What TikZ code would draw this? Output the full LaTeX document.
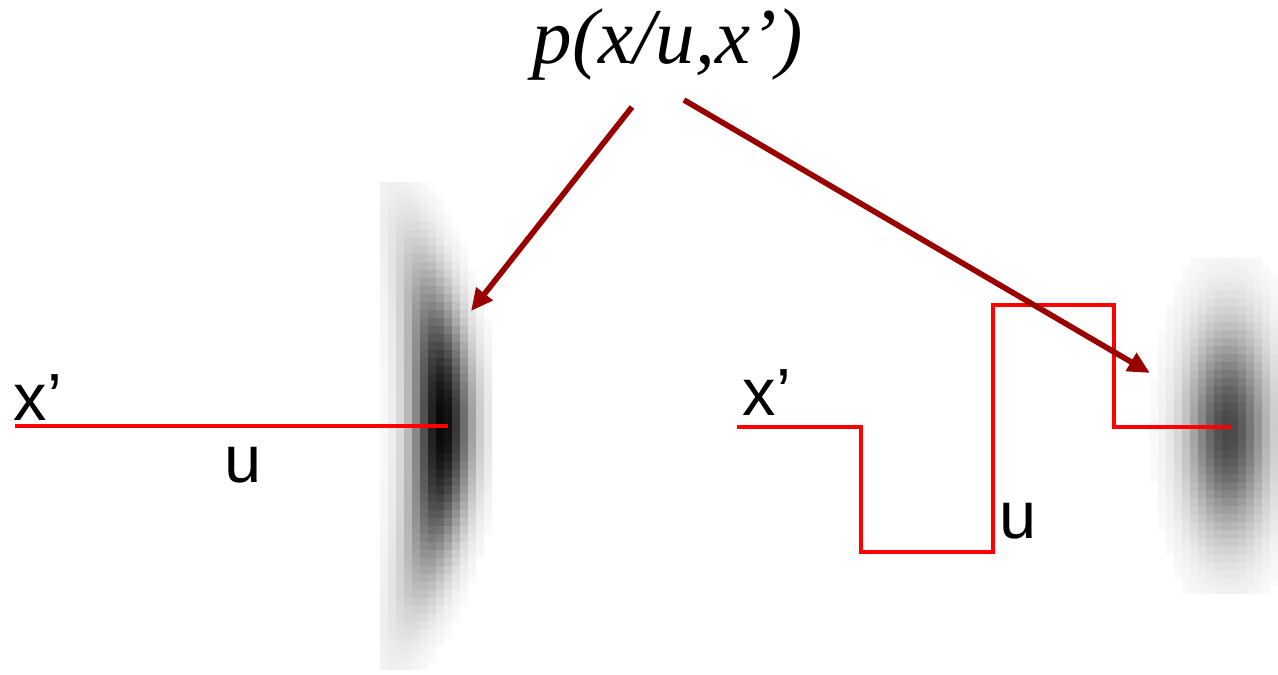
\documentclass[tikz,border=0pt]{standalone}
\usepackage{fontspec}
\setmainfont{Liberation Serif}
\newfontfamily\labelfont{Liberation Sans}
\usetikzlibrary{arrows.meta}
\definecolor{tracered}{RGB}{255,0,0}
\definecolor{darkred}{RGB}{153,0,0}
\tikzset{
  lbl/.style={inner sep=0pt,anchor=base west,font=\labelfont\fontsize{19}{22}\selectfont},
  pointer/.style={darkred,line width=1.6pt,-{Triangle[length=0.22cm,width=0.2cm]}},
  trace/.style={tracered,line width=1.4pt}
}
\begin{document}
\begin{tikzpicture}
\useasboundingbox (0,0) rectangle (12.78,6.74);
% left density, bent
\foreach \i in {0,...,13}{
  \foreach \j in {0,...,60}{
    \pgfmathsetmacro{\px}{3.80+0.08*\i}
    \pgfmathsetmacro{\py}{0.04+0.08*\j}
    \pgfmathsetmacro{\dy}{\py+0.04-2.49}
    \pgfmathsetmacro{\dx}{\px+0.04-4.42+0.078*\dy*\dy}
    \pgfmathsetmacro{\q}{0.5*(\dx*\dx/0.0324+\dy*\dy/0.7225)}
    \pgfmathsetmacro{\v}{97*exp(-0.7*\q)}
    \ifdim\v pt>2pt \fill[black!\v] (\px,\py) rectangle ++(0.081,0.081); \fi
  }
}
% right density
\foreach \i in {0,...,15}{
  \foreach \j in {0,...,41}{
    \pgfmathsetmacro{\px}{11.50+0.08*\i}
    \pgfmathsetmacro{\py}{0.80+0.08*\j}
    \pgfmathsetmacro{\dy}{\py+0.04-2.44}
    \pgfmathsetmacro{\dx}{\px+0.04-12.28}
    \pgfmathsetmacro{\q}{0.5*(\dx*\dx/0.0576+\dy*\dy/0.36)}
    \pgfmathsetmacro{\v}{72*exp(-0.7*\q)}
    \ifdim\v pt>2pt \fill[black!\v] (\px,\py) rectangle ++(0.081,0.081); \fi
  }
}
% controls
\draw[trace] (0.15,2.48) -- (4.48,2.48);
\draw[trace] (7.37,2.47) -- (8.61,2.47) -- (8.61,1.22) -- (9.93,1.22)
  -- (9.93,3.69) -- (11.14,3.69) -- (11.14,2.47) -- (12.32,2.47);
\node[lbl] (xl) at (0.13,2.54) {x’};
\node[lbl] (ul) at (2.24,1.92) {u};
\node[lbl] (xr) at (7.42,2.59) {x’};
\node[lbl] (ur) at (9.99,1.36) {u};
% title and pointers
\node[inner sep=0pt,anchor=base,font=\fontsize{22.5}{26}\selectfont\itshape] (title) at (6.68,6.11) {p(x/u,x’)};
\coordinate (fromL) at (6.32,5.67);
\coordinate (fromR) at (6.84,5.74);
\coordinate (tipL) at (4.71,3.63);
\coordinate (tipR) at (11.50,3.01);
\draw[pointer] (fromL) -- (tipL);
\draw[pointer] (fromR) -- (tipR);
\end{tikzpicture}
\end{document}
